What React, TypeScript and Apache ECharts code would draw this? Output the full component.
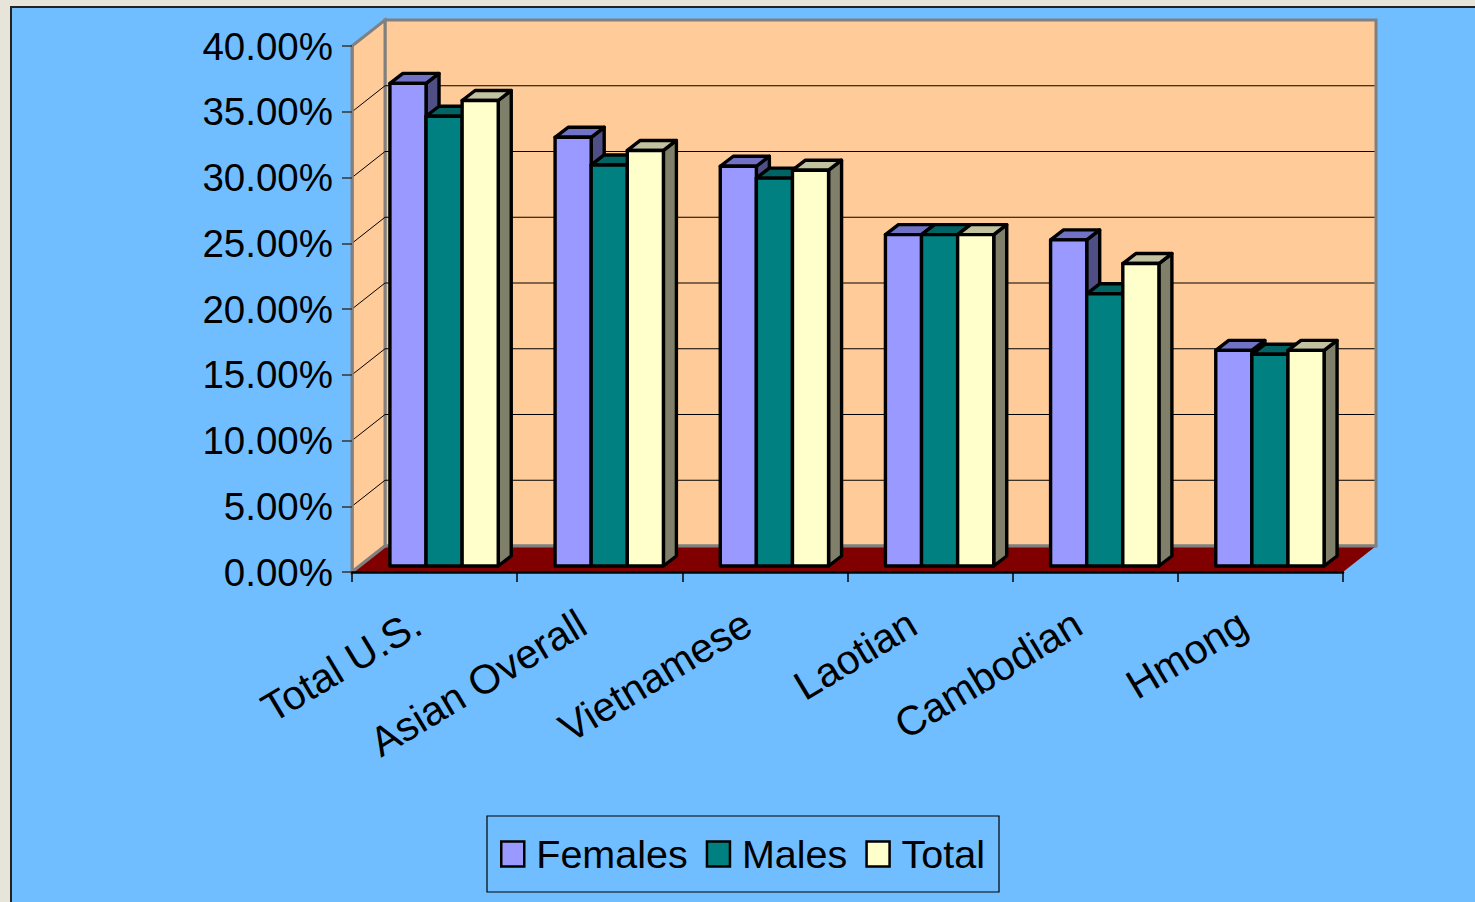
import React, { useEffect, useRef } from 'react';
import * as echarts from 'echarts';

const categories = ['Total U.S.', 'Asian Overall', 'Vietnamese', 'Laotian', 'Cambodian', 'Hmong'];
const females = [0.367, 0.326, 0.304, 0.252, 0.248, 0.164];
const males = [0.342, 0.305, 0.295, 0.252, 0.207, 0.161];
const total = [0.354, 0.316, 0.301, 0.252, 0.23, 0.164];
const yTicks = [0, 0.05, 0.1, 0.15, 0.2, 0.25, 0.3, 0.35, 0.4];
const seriesNames = ['Females', 'Males', 'Total'];

const FRONT = ['#9999FF', '#008080', '#FFFFCC'];
const TOPC = ['#7171C6', '#006464', '#C2C2A0'];
const SIDE = ['#4F4F86', '#004D4D', '#80806A'];

const FONT = '"Liberation Sans", Arial, sans-serif';
const WALL_DX = 33;
const WALL_DY = -26;
const BAR_FRAC = 0.2186;
const BAR_OFFX = 9.5;
const BAR_OFFY = -6;
const BAR_DX = 13;
const BAR_DY = -10;
const LW = 3.4;

function wallsRender(params: any, api: any) {
  const cs = params.coordSys;
  const x0 = cs.x;
  const x1 = cs.x + cs.width;
  const yB = api.coord([0, 0])[1];
  const yT = api.coord([0, yTicks[yTicks.length - 1]])[1];
  const gray = '#808080';
  const children: any[] = [];
  children.push({
    type: 'polygon',
    shape: { points: [[x0 + WALL_DX, yT + WALL_DY], [x1 + WALL_DX, yT + WALL_DY], [x1 + WALL_DX, yB + WALL_DY], [x0 + WALL_DX, yB + WALL_DY]] },
    style: { fill: '#FFCC99', stroke: gray, lineWidth: 3 },
  });
  children.push({
    type: 'polygon',
    shape: { points: [[x0, yT], [x0 + WALL_DX, yT + WALL_DY], [x0 + WALL_DX, yB + WALL_DY], [x0, yB]] },
    style: { fill: '#FFCC99', stroke: gray, lineWidth: 3 },
  });
  children.push({
    type: 'polygon',
    shape: { points: [[x0, yB], [x1, yB], [x1 + WALL_DX, yB + WALL_DY], [x0 + WALL_DX, yB + WALL_DY]] },
    style: { fill: '#800000' },
  });
  children.push({
    type: 'line',
    shape: { x1: x0 + WALL_DX, y1: yB + WALL_DY, x2: x1 + WALL_DX, y2: yB + WALL_DY },
    style: { stroke: gray, lineWidth: 3 },
  });
  children.push({
    type: 'line',
    shape: { x1: x0, y1: yB, x2: x0 + WALL_DX, y2: yB + WALL_DY },
    style: { stroke: gray, lineWidth: 3 },
  });
  for (let i = 1; i < yTicks.length - 1; i++) {
    const y = api.coord([0, yTicks[i]])[1];
    children.push({
      type: 'line',
      shape: { x1: x0 + WALL_DX, y1: y + WALL_DY, x2: x1 + WALL_DX - 1.5, y2: y + WALL_DY },
      style: { stroke: '#000', lineWidth: 1 },
    });
    children.push({
      type: 'line',
      shape: { x1: x0, y1: y, x2: x0 + WALL_DX, y2: y + WALL_DY },
      style: { stroke: '#000', lineWidth: 1 },
    });
  }
  return { type: 'group', children };
}

function makeBarRender(s: number) {
  return function (params: any, api: any) {
    const ci = api.value(0);
    const v = api.value(1);
    const p0 = api.coord([ci, 0]);
    const p1 = api.coord([ci, v]);
    const cw = api.size([1, 0])[0];
    const bw = cw * BAR_FRAC;
    const left = p0[0] - 1.5 * bw + s * bw + BAR_OFFX;
    const right = left + bw;
    const bottom = p0[1] + BAR_OFFY;
    const top = p1[1] + BAR_OFFY;
    const st = { stroke: '#000', lineWidth: LW, lineJoin: 'round' };
    return {
      type: 'group',
      children: [
        {
          type: 'polygon',
          shape: { points: [[right, bottom], [right + BAR_DX, bottom + BAR_DY], [right + BAR_DX, top + BAR_DY], [right, top]] },
          style: { fill: SIDE[s], ...st },
        },
        {
          type: 'polygon',
          shape: { points: [[left, top], [left + BAR_DX, top + BAR_DY], [right + BAR_DX, top + BAR_DY], [right, top]] },
          style: { fill: TOPC[s], ...st },
        },
        {
          type: 'rect',
          shape: { x: left, y: top, width: bw, height: bottom - top },
          style: { fill: FRONT[s], ...st },
        },
      ],
    };
  };
}

export default function App() {
  const ref = useRef<HTMLDivElement>(null);
  useEffect(() => {
    if (!ref.current) return;
    const chart = echarts.init(ref.current, null, { renderer: 'svg' });
    const seriesData = [females, males, total];
    chart.setOption({
      animation: false,
      backgroundColor: '#E7E5D9',
      graphic: [
        {
          type: 'rect',
          z: -100,
          shape: { x: 11, y: 7, width: 1480, height: 910 },
          style: { fill: '#70BEFF', stroke: '#222', lineWidth: 2 },
          silent: true,
        },
      ],
      grid: { left: 352, top: 46, width: 991, height: 526, containLabel: false },
      legend: {
        data: seriesNames,
        left: 487,
        top: 816,
        orient: 'horizontal',
        icon: 'rect',
        itemWidth: 23,
        itemHeight: 25,
        itemGap: 18,
        padding: [15, 14, 15, 13],
        borderColor: '#000',
        borderWidth: 1.2,
        selectedMode: false,
        itemStyle: { borderColor: '#000', borderWidth: 2.5 },
        textStyle: { fontSize: 39.5, color: '#000', fontFamily: FONT, padding: [0, 0, 0, 7], lineHeight: 46 },
      },
      xAxis: {
        type: 'category',
        data: categories,
        z: 10,
        axisLine: { show: true, lineStyle: { color: '#000', width: 2.5 } },
        axisTick: { show: true, length: 10, lineStyle: { color: '#000', width: 1.5 } },
        axisLabel: {
          rotate: 31,
          margin: 38,
          fontSize: 41,
          color: '#000',
          fontFamily: FONT,
          interval: 0,
          padding: [0, 20, 0, 0],
        },
        splitLine: { show: false },
      },
      yAxis: {
        type: 'value',
        min: yTicks[0],
        max: yTicks[yTicks.length - 1],
        interval: yTicks[1] - yTicks[0],
        z: 10,
        axisLine: { show: true, lineStyle: { color: '#808080', width: 2.5 } },
        axisTick: { show: true, length: 10, lineStyle: { color: '#333', width: 1.5 } },
        axisLabel: {
          margin: 19,
          fontSize: 38.5,
          color: '#000',
          fontFamily: FONT,
          formatter: (v: number) => (v * 100).toFixed(2) + '%',
        },
        splitLine: { show: false },
      },
      series: [
        {
          type: 'custom',
          name: 'walls',
          silent: true,
          z: 1,
          renderItem: wallsRender,
          data: [[0, 0]],
        },
        ...seriesNames.map((name, s) => ({
          type: 'custom',
          name,
          silent: true,
          z: 2,
          itemStyle: { color: FRONT[s], borderColor: '#000', borderWidth: 2.5 },
          renderItem: makeBarRender(s),
          data: seriesData[s].map((v, i) => [i, v]),
        })),
      ],
    });
    return () => chart.dispose();
  }, []);
  return <div ref={ref} style={{ position: 'fixed', left: 0, top: 0, width: 1475, height: 902 }} />;
}
